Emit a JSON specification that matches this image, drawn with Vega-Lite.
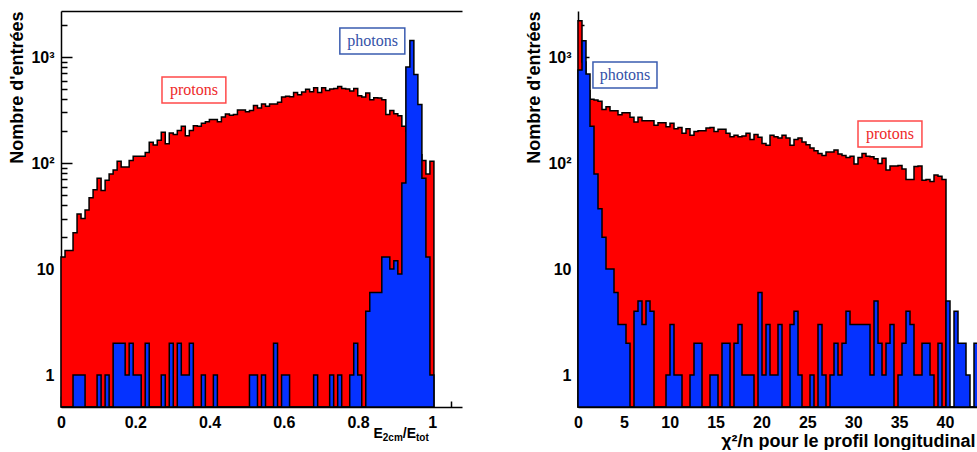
{
  "$schema": "https://vega.github.io/schema/vega-lite/v6.json",
  "background": "white",
  "padding": {"left": 8, "top": 10, "right": 0, "bottom": 0},
  "spacing": 63,
  "config": {
    "view": {"stroke": null},
    "axis": {
      "grid": false,
      "labelFont": "Liberation Sans",
      "labelFontWeight": "bold",
      "labelFontSize": 16,
      "labelColor": "black",
      "titleFont": "Liberation Sans",
      "titleFontWeight": "bold",
      "titleColor": "black",
      "domainColor": "black",
      "domainWidth": 1.5,
      "tickColor": "black",
      "tickWidth": 1.5,
      "labelFlush": false,
      "labelOverlap": false
    }
  },
  "datasets": {
    "left": [
      {"x":0,"p":13,"g":0},{"x":0.0108,"p":15,"g":0},{"x":0.0216,"p":15,"g":0},{"x":0.0324,"p":22,"g":1},{"x":0.0432,"p":33,"g":1},
      {"x":0.054,"p":30,"g":1},{"x":0.0648,"p":36,"g":0},{"x":0.0756,"p":47,"g":0},{"x":0.0864,"p":56,"g":0},{"x":0.0972,"p":72,"g":1},
      {"x":0.108,"p":55,"g":0},{"x":0.1188,"p":69,"g":1},{"x":0.1296,"p":79,"g":0},{"x":0.1404,"p":86,"g":2},{"x":0.1512,"p":104,"g":2},
      {"x":0.162,"p":92,"g":2},{"x":0.1728,"p":92,"g":1},{"x":0.1836,"p":106,"g":2},{"x":0.1944,"p":116,"g":1},{"x":0.2052,"p":116,"g":1},
      {"x":0.216,"p":116,"g":0},{"x":0.2268,"p":126,"g":2},{"x":0.2376,"p":157,"g":0},{"x":0.2484,"p":148,"g":0},{"x":0.2592,"p":164,"g":0},
      {"x":0.27,"p":195,"g":1},{"x":0.2808,"p":152,"g":0},{"x":0.2916,"p":192,"g":2},{"x":0.3024,"p":186,"g":0},{"x":0.3132,"p":203,"g":2},
      {"x":0.324,"p":222,"g":1},{"x":0.3348,"p":181,"g":1},{"x":0.3456,"p":203,"g":2},{"x":0.3564,"p":225,"g":0},{"x":0.3672,"p":222,"g":0},
      {"x":0.378,"p":238,"g":1},{"x":0.3888,"p":245,"g":0},{"x":0.3996,"p":258,"g":0},{"x":0.4104,"p":258,"g":1},{"x":0.4212,"p":245,"g":0},
      {"x":0.432,"p":272,"g":0},{"x":0.4428,"p":290,"g":0},{"x":0.4536,"p":282,"g":0},{"x":0.4644,"p":288,"g":0},{"x":0.4752,"p":316,"g":0},
      {"x":0.486,"p":316,"g":0},{"x":0.4968,"p":305,"g":0},{"x":0.5076,"p":314,"g":1},{"x":0.5184,"p":350,"g":1},{"x":0.5292,"p":330,"g":0},
      {"x":0.54,"p":360,"g":1},{"x":0.5508,"p":343,"g":0},{"x":0.5616,"p":360,"g":0},{"x":0.5724,"p":360,"g":2},{"x":0.5832,"p":374,"g":0},
      {"x":0.594,"p":420,"g":1},{"x":0.6048,"p":426,"g":1},{"x":0.6156,"p":423,"g":0},{"x":0.6264,"p":464,"g":0},{"x":0.6372,"p":441,"g":0},
      {"x":0.648,"p":468,"g":0},{"x":0.6588,"p":496,"g":0},{"x":0.6696,"p":471,"g":0},{"x":0.6804,"p":514,"g":1},{"x":0.6912,"p":464,"g":0},
      {"x":0.702,"p":514,"g":0},{"x":0.7128,"p":485,"g":0},{"x":0.7236,"p":499,"g":1},{"x":0.7344,"p":506,"g":0},{"x":0.7452,"p":529,"g":1},
      {"x":0.756,"p":506,"g":0},{"x":0.7668,"p":499,"g":0},{"x":0.7776,"p":478,"g":1},{"x":0.7884,"p":506,"g":2},{"x":0.7992,"p":432,"g":1},
      {"x":0.81,"p":420,"g":0},{"x":0.8208,"p":457,"g":4},{"x":0.8316,"p":396,"g":6},{"x":0.8424,"p":413,"g":6},{"x":0.8532,"p":410,"g":6},
      {"x":0.864,"p":396,"g":13},{"x":0.8748,"p":288,"g":13},{"x":0.8856,"p":314,"g":10},{"x":0.8964,"p":292,"g":12},{"x":0.9072,"p":279,"g":9},
      {"x":0.918,"p":222,"g":65},{"x":0.9288,"p":200,"g":805},{"x":0.9396,"p":170,"g":1437},{"x":0.9504,"p":150,"g":686},{"x":0.9612,"p":120,"g":357},
      {"x":0.972,"p":106,"g":72},{"x":0.9828,"p":79,"g":13},{"x":0.9936,"p":104,"g":1},{"x":1.0044,"p":0,"g":0}
    ],
    "right": [
      {"x":0,"p":2200,"g":754},{"x":0.436,"p":900,"g":1425},{"x":0.872,"p":480,"g":692},{"x":1.308,"p":399,"g":223},{"x":1.744,"p":393,"g":79},
      {"x":2.18,"p":382,"g":37},{"x":2.616,"p":321,"g":20},{"x":3.052,"p":340,"g":10},{"x":3.488,"p":312,"g":10},{"x":3.924,"p":312,"g":6},
      {"x":4.36,"p":286,"g":3},{"x":4.796,"p":298,"g":3},{"x":5.232,"p":298,"g":2},{"x":5.668,"p":270,"g":0},{"x":6.104,"p":244,"g":4},
      {"x":6.54,"p":270,"g":5},{"x":6.976,"p":251,"g":3},{"x":7.412,"p":251,"g":5},{"x":7.848,"p":251,"g":4},{"x":8.284,"p":227,"g":0},
      {"x":8.72,"p":240,"g":0},{"x":9.156,"p":240,"g":0},{"x":9.592,"p":220,"g":1},{"x":10.028,"p":237,"g":3},{"x":10.464,"p":211,"g":1},
      {"x":10.9,"p":217,"g":1},{"x":11.336,"p":191,"g":0},{"x":11.772,"p":211,"g":0},{"x":12.208,"p":183,"g":1},{"x":12.644,"p":199,"g":2},
      {"x":13.08,"p":202,"g":2},{"x":13.516,"p":202,"g":0},{"x":13.952,"p":214,"g":0},{"x":14.388,"p":217,"g":1},{"x":14.824,"p":199,"g":1},
      {"x":15.26,"p":208,"g":0},{"x":15.696,"p":208,"g":2},{"x":16.132,"p":191,"g":2},{"x":16.568,"p":177,"g":0},{"x":17.004,"p":183,"g":2},
      {"x":17.44,"p":177,"g":3},{"x":17.876,"p":180,"g":1},{"x":18.312,"p":191,"g":1},{"x":18.748,"p":167,"g":1},{"x":19.184,"p":186,"g":0},
      {"x":19.62,"p":175,"g":6},{"x":20.056,"p":153,"g":1},{"x":20.492,"p":147,"g":3},{"x":20.928,"p":183,"g":1},{"x":21.364,"p":177,"g":1},
      {"x":21.8,"p":172,"g":3},{"x":22.236,"p":183,"g":0},{"x":22.672,"p":172,"g":0},{"x":23.108,"p":147,"g":3},{"x":23.544,"p":167,"g":4},
      {"x":23.98,"p":172,"g":1},{"x":24.416,"p":158,"g":0},{"x":24.852,"p":149,"g":0},{"x":25.288,"p":139,"g":1},{"x":25.724,"p":131,"g":0},
      {"x":26.16,"p":123,"g":3},{"x":26.596,"p":118,"g":1},{"x":27.032,"p":127,"g":0},{"x":27.468,"p":127,"g":1},{"x":27.904,"p":133,"g":2},
      {"x":28.34,"p":122,"g":1},{"x":28.776,"p":118,"g":2},{"x":29.212,"p":113,"g":4},{"x":29.648,"p":116,"g":3},{"x":30.084,"p":98,"g":3},
      {"x":30.52,"p":113,"g":3},{"x":30.956,"p":123,"g":3},{"x":31.392,"p":116,"g":3},{"x":31.828,"p":115,"g":1},{"x":32.264,"p":110,"g":5},
      {"x":32.7,"p":99,"g":2},{"x":33.136,"p":111,"g":1},{"x":33.572,"p":86,"g":2},{"x":34.008,"p":94,"g":3},{"x":34.444,"p":94,"g":0},
      {"x":34.88,"p":95,"g":1},{"x":35.316,"p":88,"g":2},{"x":35.752,"p":70,"g":4},{"x":36.188,"p":70,"g":3},{"x":36.624,"p":93,"g":1},
      {"x":37.06,"p":94,"g":1},{"x":37.496,"p":69,"g":2},{"x":37.932,"p":70,"g":2},{"x":38.368,"p":67,"g":1},{"x":38.804,"p":77,"g":0},
      {"x":39.24,"p":75,"g":2},{"x":39.676,"p":70,"g":0},{"x":40.112,"p":0,"g":5},{"x":40.548,"p":0,"g":0},{"x":40.984,"p":0,"g":4},
      {"x":41.42,"p":0,"g":2},{"x":41.856,"p":0,"g":2},{"x":42.292,"p":0,"g":1},{"x":42.728,"p":0,"g":0},{"x":43.164,"p":0,"g":2},
      {"x":43.6,"p":0,"g":0}
    ],
    "labL": [
      {"t":"protons","x":0.358,"x1":0.272,"x2":0.444,"y":489,"y1":648,"y2":368},
      {"t":"photons","x":0.839,"x1":0.751,"x2":0.926,"y":1416,"y1":1878,"y2":1067}
    ],
    "labR": [
      {"t":"photons","x":5.12,"x1":1.63,"x2":8.61,"y":677,"y1":897,"y2":510},
      {"t":"protons","x":34.0,"x1":30.52,"x2":37.49,"y":188,"y1":249,"y2":142}
    ]
  },
  "hconcat": [
    {
      "width": 401,
      "height": 396,
      "resolve": {"axis": {"x": "independent"}},
      "layer": [
        {
          "data": {"name": "left"},
          "mark": {"type": "area", "interpolate": "step-after", "fill": "#ff0000", "fillOpacity": 1, "stroke": "black", "strokeWidth": 1.5},
          "encoding": {
            "x": {"field": "x", "type": "quantitative", "scale": {"domain": [0, 1.08], "nice": false, "zero": false},
              "axis": {"orient": "bottom", "values": [0,0.05,0.1,0.15,0.2,0.25,0.3,0.35,0.4,0.45,0.5,0.55,0.6,0.65,0.7,0.75,0.8,0.85,0.9,0.95,1,1.05],
                "labelExpr": "indexof([0,0.2,0.4,0.6,0.8,1], datum.value) >= 0 ? ((datum.value == 0 || datum.value == 1) ? format(datum.value, 'd') : format(datum.value, '.1f')) : ''",
                "tickSize": {"condition": {"test": "indexof([0,0.2,0.4,0.6,0.8,1], datum.value) >= 0", "value": -11}, "value": -6},
                "labelPadding": 18,
                "title": "E", "titleFontSize": 14, "titleAlign": "left", "titleBaseline": "alphabetic", "titleAngle": 0, "titleX": 312, "titleY": 30}},
            "y": {"field": "p", "type": "quantitative", "stack": null, "scale": {"type": "log", "domain": [0.5, 2720], "nice": false, "clamp": true},
              "axis": {"values": [1,2,3,4,5,6,7,8,9,10,20,30,40,50,60,70,80,90,100,200,300,400,500,600,700,800,900,1000,2000],
                "labelExpr": "datum.value == 1 ? '1' : datum.value == 10 ? '10' : datum.value == 100 ? '10²' : datum.value == 1000 ? '10³' : ''",
                "tickSize": {"condition": {"test": "datum.value == 1 || datum.value == 10 || datum.value == 100 || datum.value == 1000", "value": -11}, "value": -6},
                "labelPadding": 18,
                "title": "Nombre d'entrées", "titleFontSize": 18, "titleAnchor": "end", "titlePadding": 4}}
          }
        },
        {
          "data": {"name": "left"},
          "mark": {"type": "area", "interpolate": "step-after", "fill": "#0532ff", "fillOpacity": 1, "stroke": "black", "strokeWidth": 1.5},
          "encoding": {
            "x": {"field": "x", "type": "quantitative",
              "axis": {"orient": "bottom", "domain": false, "ticks": false, "labels": false, "title": "2cm", "titleFontSize": 10, "titleAlign": "left", "titleBaseline": "alphabetic", "titleAngle": 0, "titleX": 321.3, "titleY": 33}},
            "y": {"field": "g", "type": "quantitative", "stack": null}
          }
        },
        {
          "data": {"name": "labL"},
          "transform": [{"filter": "datum.t == 'protons'"}],
          "mark": {"type": "rect", "fill": "white", "stroke": "#ff4a4a", "strokeWidth": 1.5},
          "encoding": {
            "x": {"field": "x1", "type": "quantitative",
              "axis": {"orient": "bottom", "domain": false, "ticks": false, "labels": false, "title": "/E", "titleFontSize": 14, "titleAlign": "left", "titleBaseline": "alphabetic", "titleAngle": 0, "titleX": 341.3, "titleY": 30}},
            "x2": {"field": "x2"},
            "y": {"field": "y1", "type": "quantitative"},
            "y2": {"field": "y2"}
          }
        },
        {
          "data": {"name": "labL"},
          "transform": [{"filter": "datum.t == 'photons'"}],
          "mark": {"type": "rect", "fill": "white", "stroke": "#3a5cb0", "strokeWidth": 1.5},
          "encoding": {
            "x": {"field": "x1", "type": "quantitative",
              "axis": {"orient": "top", "domain": true, "ticks": false, "labels": false, "title": null}},
            "x2": {"field": "x2"},
            "y": {"field": "y1", "type": "quantitative"},
            "y2": {"field": "y2"}
          }
        },
        {
          "data": {"name": "labL"},
          "transform": [{"filter": "datum.t == 'protons'"}],
          "mark": {"type": "text", "font": "Liberation Serif", "fontSize": 16, "fill": "#ee2a2a", "align": "center", "baseline": "middle"},
          "encoding": {
            "x": {"field": "x", "type": "quantitative",
              "axis": {"orient": "bottom", "domain": false, "ticks": false, "labels": false, "title": "tot", "titleFontSize": 10, "titleAlign": "left", "titleBaseline": "alphabetic", "titleAngle": 0, "titleX": 354.5, "titleY": 33}},
            "y": {"field": "y", "type": "quantitative"},
            "text": {"field": "t"}
          }
        },
        {
          "data": {"name": "labL"},
          "transform": [{"filter": "datum.t == 'photons'"}],
          "mark": {"type": "text", "font": "Liberation Serif", "fontSize": 16, "fill": "#3552a8", "align": "center", "baseline": "middle"},
          "encoding": {
            "x": {"field": "x", "type": "quantitative", "axis": null},
            "y": {"field": "y", "type": "quantitative"},
            "text": {"field": "t"}
          }
        }
      ]
    },
    {
      "width": 400,
      "height": 396,
      "layer": [
        {
          "data": {"name": "right"},
          "mark": {"type": "area", "interpolate": "step-after", "fill": "#ff0000", "fillOpacity": 1, "stroke": "black", "strokeWidth": 1.5},
          "encoding": {
            "x": {"field": "x", "type": "quantitative", "scale": {"domain": [0, 43.6], "nice": false, "zero": false},
              "axis": {"values": [0,5,10,15,20,25,30,35,40], "tickSize": -11, "labelPadding": 18,
                "title": "χ²/n pour le profil longitudinal", "titleFontSize": 18, "titleAlign": "right", "titleBaseline": "alphabetic", "titleAngle": 0, "titleX": 397, "titleY": 39}},
            "y": {"field": "p", "type": "quantitative", "stack": null, "scale": {"type": "log", "domain": [0.5, 2720], "nice": false, "clamp": true},
              "axis": {"values": [1,2,3,4,5,6,7,8,9,10,20,30,40,50,60,70,80,90,100,200,300,400,500,600,700,800,900,1000,2000],
                "labelExpr": "datum.value == 1 ? '1' : datum.value == 10 ? '10' : datum.value == 100 ? '10²' : datum.value == 1000 ? '10³' : ''",
                "tickSize": {"condition": {"test": "datum.value == 1 || datum.value == 10 || datum.value == 100 || datum.value == 1000", "value": -11}, "value": -6},
                "labelPadding": 18,
                "title": "Nombre d'entrées", "titleFontSize": 18, "titleAnchor": "end", "titlePadding": 4}}
          }
        },
        {
          "data": {"name": "right"},
          "mark": {"type": "area", "interpolate": "step-after", "fill": "#0532ff", "fillOpacity": 1, "stroke": "black", "strokeWidth": 1.5},
          "encoding": {
            "x": {"field": "x", "type": "quantitative"},
            "y": {"field": "g", "type": "quantitative", "stack": null}
          }
        },
        {
          "data": {"name": "labR"},
          "transform": [{"filter": "datum.t == 'protons'"}],
          "mark": {"type": "rect", "fill": "white", "stroke": "#ff4a4a", "strokeWidth": 1.5},
          "encoding": {
            "x": {"field": "x1", "type": "quantitative"},
            "x2": {"field": "x2"},
            "y": {"field": "y1", "type": "quantitative"},
            "y2": {"field": "y2"}
          }
        },
        {
          "data": {"name": "labR"},
          "transform": [{"filter": "datum.t == 'photons'"}],
          "mark": {"type": "rect", "fill": "white", "stroke": "#3a5cb0", "strokeWidth": 1.5},
          "encoding": {
            "x": {"field": "x1", "type": "quantitative"},
            "x2": {"field": "x2"},
            "y": {"field": "y1", "type": "quantitative"},
            "y2": {"field": "y2"}
          }
        },
        {
          "data": {"name": "labR"},
          "transform": [{"filter": "datum.t == 'protons'"}],
          "mark": {"type": "text", "font": "Liberation Serif", "fontSize": 16, "fill": "#ee2a2a", "align": "center", "baseline": "middle"},
          "encoding": {
            "x": {"field": "x", "type": "quantitative"},
            "y": {"field": "y", "type": "quantitative"},
            "text": {"field": "t"}
          }
        },
        {
          "data": {"name": "labR"},
          "transform": [{"filter": "datum.t == 'photons'"}],
          "mark": {"type": "text", "font": "Liberation Serif", "fontSize": 16, "fill": "#3552a8", "align": "center", "baseline": "middle"},
          "encoding": {
            "x": {"field": "x", "type": "quantitative"},
            "y": {"field": "y", "type": "quantitative"},
            "text": {"field": "t"}
          }
        }
      ]
    }
  ]
}
